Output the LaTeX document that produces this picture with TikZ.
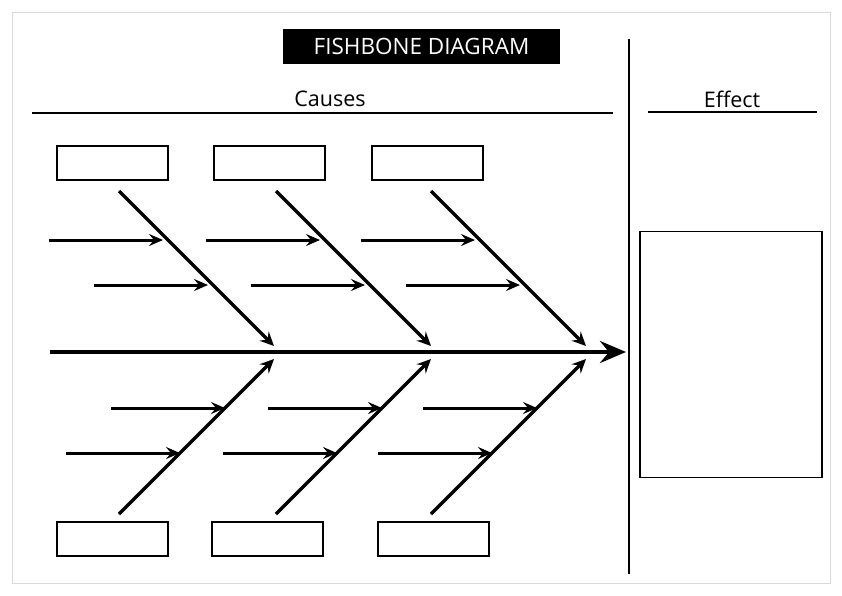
\documentclass[tikz,border=0pt]{standalone}
\usepackage{fontspec}
\setmainfont{Open Sans}
\usepackage{tikz}
\usetikzlibrary{arrows.meta}
\usetikzlibrary{positioning}

\begin{document}
\begin{tikzpicture}[
            x=1pt,
            y=-1pt,
            causebox/.style={
                draw=black,
                line width=1.2pt,
                minimum width=111pt,
                minimum height=34pt,
                inner sep=0pt
            },
            bone/.style={
                draw=black,
                line width=3.4pt,
                -{Stealth[length=14pt,width=13pt,inset=5pt]}
            },
            twig/.style={
                draw=black,
                line width=3pt,
                -{Stealth[length=14pt,width=12pt,inset=5pt]}
            },
            spine/.style={
                draw=black,
                line width=4.4pt,
                -{Stealth[length=26pt,width=22pt,inset=9pt]}
            },
            rule/.style={
                draw=black,
                line width=1.2pt
            },
            head/.style={
                font=\fontsize{21.5}{24}\selectfont,
                text=black
            }
        ]

            % Page frame
            \useasboundingbox (0,0) rectangle (842,595);
            \draw[black!15, line width=0.8pt] (12,12) rectangle (830,583);

            % Title
            \node[fill=black, text=white, minimum width=277pt, minimum height=35pt,
                  inner sep=0pt, font=\fontsize{22.5}{26}\selectfont] (title) at (421.5,46.5) {FISHBONE DIAGRAM};

            % Headers
            \node[head] (causes) at (330,99) {Causes};
            \node[head] (effect) at (732,99) {Effect};
            \coordinate (cl) at (32,113);
            \coordinate (cr) at (613,113);
            \coordinate (el) at (648,112);
            \coordinate (er) at (817,112);
            \draw[rule] (cl) -- (cr);
            \draw[rule] (el) -- (er);

            % Divider
            \coordinate (dt) at (629,39);
            \coordinate (db) at (629,574);
            \draw[rule] (dt) -- (db);

            % Effect box
            \node[draw=black, line width=1.3pt, minimum width=182pt, minimum height=246pt,
                  inner sep=0pt] (effbox) at (731,354.5) {};

            % Cause boxes
            \node[causebox] (t1) at (112.5,163) {};
            \node[causebox] (t2) at (269.5,163) {};
            \node[causebox] (t3) at (427.5,163) {};
            \node[causebox] (b1) at (112.5,539) {};
            \node[causebox] (b2) at (267.5,539) {};
            \node[causebox] (b3) at (433.5,539) {};

            % Spine
            \coordinate (s0) at (50,352);
            \coordinate (s1) at (626,352);
            \draw[spine] (s0) -- (s1);

            % Bones and twigs
            \foreach \i/\x in {1/119, 2/276, 3/431} {
                \coordinate (u\i) at (\x,191);
                \coordinate (ut\i) at (\x+155,346);
                \coordinate (d\i) at (\x,514);
                \coordinate (dt\i) at (\x+155,359);
                \draw[bone] (u\i) -- (ut\i);
                \draw[bone] (d\i) -- (dt\i);

                % upper twigs
                \coordinate (ua\i) at (\x-70,240);
                \coordinate (ub\i) at (\x+44,240);
                \coordinate (uc\i) at (\x-25,285);
                \coordinate (ud\i) at (\x+89,285);
                \draw[twig] (ua\i) -- (ub\i);
                \draw[twig] (uc\i) -- (ud\i);

                % lower twigs
                \coordinate (la\i) at (\x-8,408);
                \coordinate (lb\i) at (\x+106,408);
                \coordinate (lc\i) at (\x-53,453);
                \coordinate (ld\i) at (\x+61,453);
                \draw[twig] (la\i) -- (lb\i);
                \draw[twig] (lc\i) -- (ld\i);
            }

        \end{tikzpicture}
\end{document}
